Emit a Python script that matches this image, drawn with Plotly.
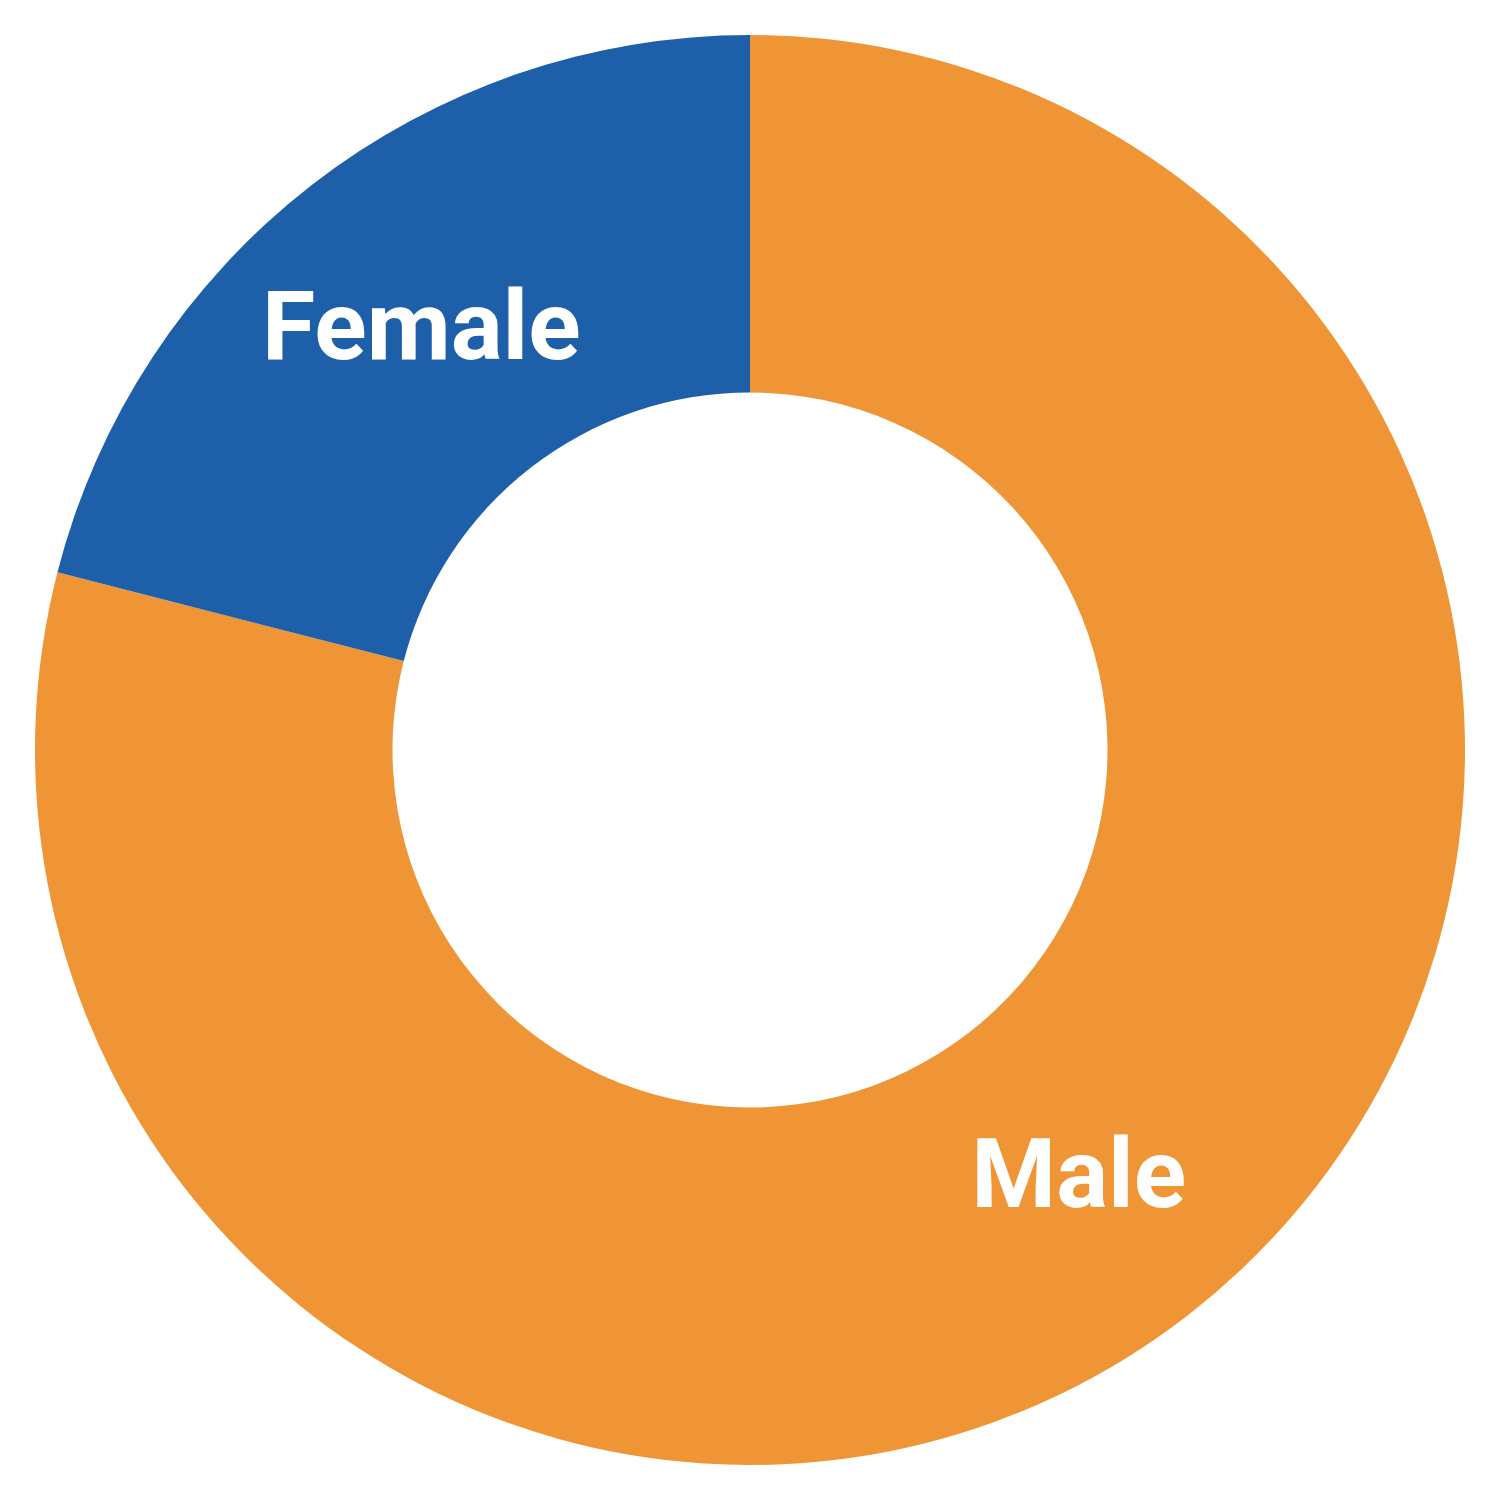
import plotly.graph_objects as go

labels = ["Male", "Female"]
values = [79, 21]
colors = ["#F09535", "#1D5FA8"]

fig = go.Figure(go.Pie(
    labels=labels,
    values=values,
    hole=0.5,
    sort=False,
    direction="clockwise",
    rotation=0,
    textinfo="label",
    textposition="inside",
    insidetextorientation="horizontal",
    marker=dict(colors=colors, line=dict(width=0)),
    textfont=dict(family="Roboto", size=97, color="white", weight="bold"),
    showlegend=False,
    hoverinfo="label+percent",
))
fig.update_layout(
    width=1500, height=1500,
    margin=dict(l=27, r=43, t=27, b=43),
    paper_bgcolor="white",
    plot_bgcolor="white",
)
fig.write_html("out.html")
